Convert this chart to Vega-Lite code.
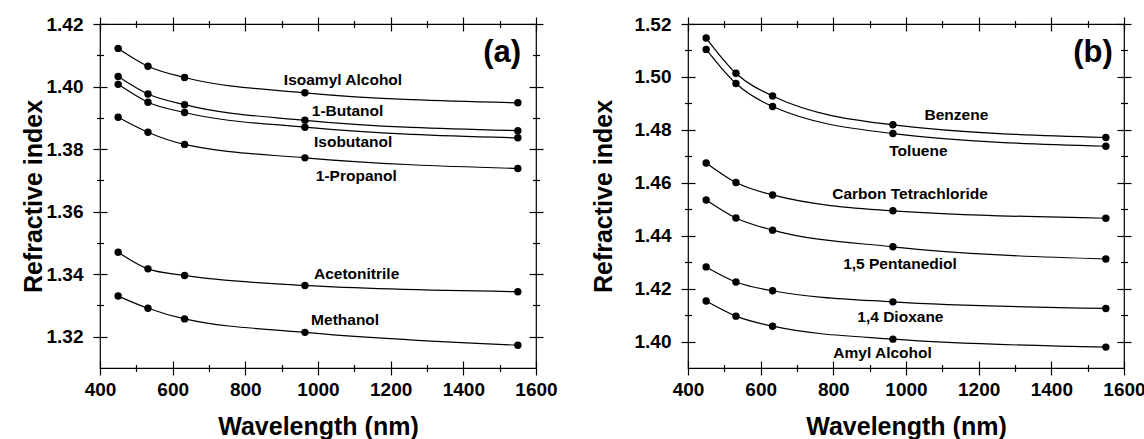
{
  "$schema": "https://vega.github.io/schema/vega-lite/v6.json",
  "background": "white",
  "padding": {"left": 20, "top": 14, "right": 0, "bottom": 0},
  "spacing": 32,
  "datasets": {
    "a": [
      {"solvent": "Isoamyl Alcohol", "wl": 450, "n": 1.4122},
      {"solvent": "Isoamyl Alcohol", "wl": 532, "n": 1.4065},
      {"solvent": "Isoamyl Alcohol", "wl": 632.8, "n": 1.4029},
      {"solvent": "Isoamyl Alcohol", "wl": 964, "n": 1.3980},
      {"solvent": "Isoamyl Alcohol", "wl": 1550, "n": 1.3948},
      {"solvent": "1-Butanol", "wl": 450, "n": 1.4032},
      {"solvent": "1-Butanol", "wl": 532, "n": 1.3976},
      {"solvent": "1-Butanol", "wl": 632.8, "n": 1.3942},
      {"solvent": "1-Butanol", "wl": 964, "n": 1.3892},
      {"solvent": "1-Butanol", "wl": 1550, "n": 1.3859},
      {"solvent": "Isobutanol", "wl": 450, "n": 1.4007},
      {"solvent": "Isobutanol", "wl": 532, "n": 1.3950},
      {"solvent": "Isobutanol", "wl": 632.8, "n": 1.3917},
      {"solvent": "Isobutanol", "wl": 964, "n": 1.3870},
      {"solvent": "Isobutanol", "wl": 1550, "n": 1.3836},
      {"solvent": "1-Propanol", "wl": 450, "n": 1.3902},
      {"solvent": "1-Propanol", "wl": 532, "n": 1.3854},
      {"solvent": "1-Propanol", "wl": 632.8, "n": 1.3815},
      {"solvent": "1-Propanol", "wl": 964, "n": 1.3772},
      {"solvent": "1-Propanol", "wl": 1550, "n": 1.3738},
      {"solvent": "Acetonitrile", "wl": 450, "n": 1.3470},
      {"solvent": "Acetonitrile", "wl": 532, "n": 1.3417},
      {"solvent": "Acetonitrile", "wl": 632.8, "n": 1.3396},
      {"solvent": "Acetonitrile", "wl": 964, "n": 1.3364},
      {"solvent": "Acetonitrile", "wl": 1550, "n": 1.3344},
      {"solvent": "Methanol", "wl": 450, "n": 1.3330},
      {"solvent": "Methanol", "wl": 532, "n": 1.3291},
      {"solvent": "Methanol", "wl": 632.8, "n": 1.3257},
      {"solvent": "Methanol", "wl": 964, "n": 1.3214},
      {"solvent": "Methanol", "wl": 1550, "n": 1.3173}
    ],
    "b": [
      {"solvent": "Benzene", "wl": 450, "n": 1.5147},
      {"solvent": "Benzene", "wl": 532, "n": 1.5014},
      {"solvent": "Benzene", "wl": 632.8, "n": 1.4928},
      {"solvent": "Benzene", "wl": 964, "n": 1.4819},
      {"solvent": "Benzene", "wl": 1550, "n": 1.4771},
      {"solvent": "Toluene", "wl": 450, "n": 1.5104},
      {"solvent": "Toluene", "wl": 532, "n": 1.4975},
      {"solvent": "Toluene", "wl": 632.8, "n": 1.4888},
      {"solvent": "Toluene", "wl": 964, "n": 1.4786},
      {"solvent": "Toluene", "wl": 1550, "n": 1.4738},
      {"solvent": "Carbon Tetrachloride", "wl": 450, "n": 1.4675},
      {"solvent": "Carbon Tetrachloride", "wl": 532, "n": 1.4601},
      {"solvent": "Carbon Tetrachloride", "wl": 632.8, "n": 1.4554},
      {"solvent": "Carbon Tetrachloride", "wl": 964, "n": 1.4494},
      {"solvent": "Carbon Tetrachloride", "wl": 1550, "n": 1.4466},
      {"solvent": "1,5 Pentanediol", "wl": 450, "n": 1.4535},
      {"solvent": "1,5 Pentanediol", "wl": 532, "n": 1.4467},
      {"solvent": "1,5 Pentanediol", "wl": 632.8, "n": 1.4421},
      {"solvent": "1,5 Pentanediol", "wl": 964, "n": 1.4358},
      {"solvent": "1,5 Pentanediol", "wl": 1550, "n": 1.4312},
      {"solvent": "1,4 Dioxane", "wl": 450, "n": 1.4282},
      {"solvent": "1,4 Dioxane", "wl": 532, "n": 1.4225},
      {"solvent": "1,4 Dioxane", "wl": 632.8, "n": 1.4192},
      {"solvent": "1,4 Dioxane", "wl": 964, "n": 1.4150},
      {"solvent": "1,4 Dioxane", "wl": 1550, "n": 1.4125},
      {"solvent": "Amyl Alcohol", "wl": 450, "n": 1.4153},
      {"solvent": "Amyl Alcohol", "wl": 532, "n": 1.4096},
      {"solvent": "Amyl Alcohol", "wl": 632.8, "n": 1.4058},
      {"solvent": "Amyl Alcohol", "wl": 964, "n": 1.4009},
      {"solvent": "Amyl Alcohol", "wl": 1550, "n": 1.3979}
    ],
    "la": [
      {"name": "Isoamyl Alcohol", "wl": 906, "n": 1.4020},
      {"name": "1-Butanol", "wl": 983, "n": 1.3921},
      {"name": "Isobutanol", "wl": 989, "n": 1.3822},
      {"name": "1-Propanol", "wl": 994, "n": 1.3713},
      {"name": "Acetonitrile", "wl": 989, "n": 1.3400},
      {"name": "Methanol", "wl": 981, "n": 1.3253}
    ],
    "lb": [
      {"name": "Benzene", "wl": 1051, "n": 1.4856},
      {"name": "Toluene", "wl": 954, "n": 1.4720},
      {"name": "Carbon Tetrachloride", "wl": 797, "n": 1.4558},
      {"name": "1,5 Pentanediol", "wl": 827, "n": 1.4294},
      {"name": "1,4 Dioxane", "wl": 866, "n": 1.4094},
      {"name": "Amyl Alcohol", "wl": 800, "n": 1.3958}
    ],
    "pa": [{"name": "(a)", "wl": 1559, "n": 1.4107}],
    "pb": [{"name": "(b)", "wl": 1569, "n": 1.5092}]
  },
  "hconcat": [
    {
      "width": 436,
      "height": 344,
      "layer": [
        {
          "data": {"name": "a"},
          "mark": {"type": "line", "interpolate": "monotone", "color": "black", "strokeWidth": 1.2},
          "encoding": {
            "x": {"field": "wl", "type": "quantitative", "scale": {"domain": [400, 1600], "nice": false, "zero": false},
              "axis": {"orient": "bottom", "values": [400, 600, 800, 1000, 1200, 1400, 1600], "format": "d", "tickSize": 7, "labelPadding": 5, "title": "Wavelength (nm)", "titlePadding": 15}},
            "y": {"field": "n", "type": "quantitative", "scale": {"domain": [1.31, 1.42], "nice": false, "zero": false},
              "axis": {"orient": "left", "values": [1.32, 1.34, 1.36, 1.38, 1.40, 1.42], "format": ".2f", "tickSize": 7, "labelPadding": 10, "title": "Refractive index", "titlePadding": 0}},
            "detail": {"field": "solvent"}
          }
        },
        {
          "data": {"name": "a"},
          "mark": {"type": "point", "filled": true, "color": "black", "size": 55, "opacity": 1},
          "encoding": {
            "x": {"field": "wl", "type": "quantitative", "axis": {"orient": "bottom", "values": [400, 600, 800, 1000, 1200, 1400, 1600], "offset": -7, "tickSize": 7, "labels": false, "title": null}},
            "y": {"field": "n", "type": "quantitative", "axis": {"orient": "left", "values": [1.32, 1.34, 1.36, 1.38, 1.40, 1.42], "offset": -7, "tickSize": 7, "labels": false, "title": null}}
          }
        },
        {
          "data": {"name": "la"},
          "mark": {"type": "text", "align": "left", "baseline": "middle", "fontSize": 15.5, "fontWeight": "bold", "color": "black"},
          "encoding": {
            "x": {"field": "wl", "type": "quantitative", "axis": {"orient": "bottom", "values": [500, 700, 900, 1100, 1300, 1500], "offset": -3.5, "tickSize": 7, "labels": false, "title": null}},
            "y": {"field": "n", "type": "quantitative", "axis": {"orient": "left", "values": [1.33, 1.35, 1.37, 1.39, 1.41], "offset": -3.5, "tickSize": 7, "labels": false, "title": null}},
            "text": {"field": "name"}
          }
        },
        {
          "data": {"name": "pa"},
          "mark": {"type": "text", "align": "right", "baseline": "middle", "fontSize": 31, "fontWeight": "bold", "color": "black"},
          "encoding": {
            "x": {"field": "wl", "type": "quantitative", "axis": {"orient": "top", "values": [400, 600, 800, 1000, 1200, 1400, 1600], "offset": -7, "tickSize": 14, "labels": false, "title": null}},
            "y": {"field": "n", "type": "quantitative", "axis": {"orient": "right", "values": [1.32, 1.34, 1.36, 1.38, 1.40, 1.42], "offset": -7, "tickSize": 14, "labels": false, "title": null}},
            "text": {"field": "name"}
          }
        },
        {
          "data": {"name": "a"},
          "mark": {"type": "point", "filled": true, "color": "black", "size": 55, "opacity": 0},
          "encoding": {
            "x": {"field": "wl", "type": "quantitative", "axis": {"orient": "top", "values": [500, 700, 900, 1100, 1300, 1500], "offset": -3.5, "tickSize": 7, "labels": false, "title": null}},
            "y": {"field": "n", "type": "quantitative", "axis": {"orient": "right", "values": [1.33, 1.35, 1.37, 1.39, 1.41], "offset": -3.5, "tickSize": 7, "labels": false, "title": null}}
          }
        }
      ],
      "resolve": {"scale": {"x": "shared", "y": "shared"}, "axis": {"x": "independent", "y": "independent"}}
    },
    {
      "width": 436,
      "height": 344,
      "layer": [
        {
          "data": {"name": "b"},
          "mark": {"type": "line", "interpolate": "monotone", "color": "black", "strokeWidth": 1.2},
          "encoding": {
            "x": {"field": "wl", "type": "quantitative", "scale": {"domain": [400, 1600], "nice": false, "zero": false},
              "axis": {"orient": "bottom", "values": [400, 600, 800, 1000, 1200, 1400, 1600], "format": "d", "tickSize": 7, "labelPadding": 5, "title": "Wavelength (nm)", "titlePadding": 15}},
            "y": {"field": "n", "type": "quantitative", "scale": {"domain": [1.39, 1.52], "nice": false, "zero": false},
              "axis": {"orient": "left", "values": [1.40, 1.42, 1.44, 1.46, 1.48, 1.50, 1.52], "format": ".2f", "tickSize": 7, "labelPadding": 10, "title": "Refractive index", "titlePadding": 18}},
            "detail": {"field": "solvent"}
          }
        },
        {
          "data": {"name": "b"},
          "mark": {"type": "point", "filled": true, "color": "black", "size": 55, "opacity": 1},
          "encoding": {
            "x": {"field": "wl", "type": "quantitative", "axis": {"orient": "bottom", "values": [400, 600, 800, 1000, 1200, 1400, 1600], "offset": -7, "tickSize": 7, "labels": false, "title": null}},
            "y": {"field": "n", "type": "quantitative", "axis": {"orient": "left", "values": [1.40, 1.42, 1.44, 1.46, 1.48, 1.50, 1.52], "offset": -7, "tickSize": 7, "labels": false, "title": null}}
          }
        },
        {
          "data": {"name": "lb"},
          "mark": {"type": "text", "align": "left", "baseline": "middle", "fontSize": 15.5, "fontWeight": "bold", "color": "black"},
          "encoding": {
            "x": {"field": "wl", "type": "quantitative", "axis": {"orient": "bottom", "values": [500, 700, 900, 1100, 1300, 1500], "offset": -3.5, "tickSize": 7, "labels": false, "title": null}},
            "y": {"field": "n", "type": "quantitative", "axis": {"orient": "left", "values": [1.41, 1.43, 1.45, 1.47, 1.49, 1.51], "offset": -3.5, "tickSize": 7, "labels": false, "title": null}},
            "text": {"field": "name"}
          }
        },
        {
          "data": {"name": "pb"},
          "mark": {"type": "text", "align": "right", "baseline": "middle", "fontSize": 31, "fontWeight": "bold", "color": "black"},
          "encoding": {
            "x": {"field": "wl", "type": "quantitative", "axis": {"orient": "top", "values": [400, 600, 800, 1000, 1200, 1400, 1600], "offset": -7, "tickSize": 14, "labels": false, "title": null}},
            "y": {"field": "n", "type": "quantitative", "axis": {"orient": "right", "values": [1.40, 1.42, 1.44, 1.46, 1.48, 1.50, 1.52], "offset": -7, "tickSize": 14, "labels": false, "title": null}},
            "text": {"field": "name"}
          }
        },
        {
          "data": {"name": "b"},
          "mark": {"type": "point", "filled": true, "color": "black", "size": 55, "opacity": 0},
          "encoding": {
            "x": {"field": "wl", "type": "quantitative", "axis": {"orient": "top", "values": [500, 700, 900, 1100, 1300, 1500], "offset": -3.5, "tickSize": 7, "labels": false, "title": null}},
            "y": {"field": "n", "type": "quantitative", "axis": {"orient": "right", "values": [1.41, 1.43, 1.45, 1.47, 1.49, 1.51], "offset": -3.5, "tickSize": 7, "labels": false, "title": null}}
          }
        }
      ],
      "resolve": {"scale": {"x": "shared", "y": "shared"}, "axis": {"x": "independent", "y": "independent"}}
    }
  ],
  "config": {
    "font": "Liberation Sans",
    "view": {"stroke": "black", "strokeWidth": 1.2},
    "axis": {
      "grid": false,
      "domain": false,
      "tickColor": "black",
      "tickWidth": 1.2,
      "labelColor": "black",
      "labelFont": "Liberation Sans",
      "labelFontWeight": "bold",
      "labelFontSize": 19,
      "labelFlush": false,
      "labelOverlap": false,
      "labelBound": false,
      "titleFont": "Liberation Sans",
      "titleFontWeight": "bold",
      "titleFontSize": 25,
      "titleColor": "black"
    }
  }
}
